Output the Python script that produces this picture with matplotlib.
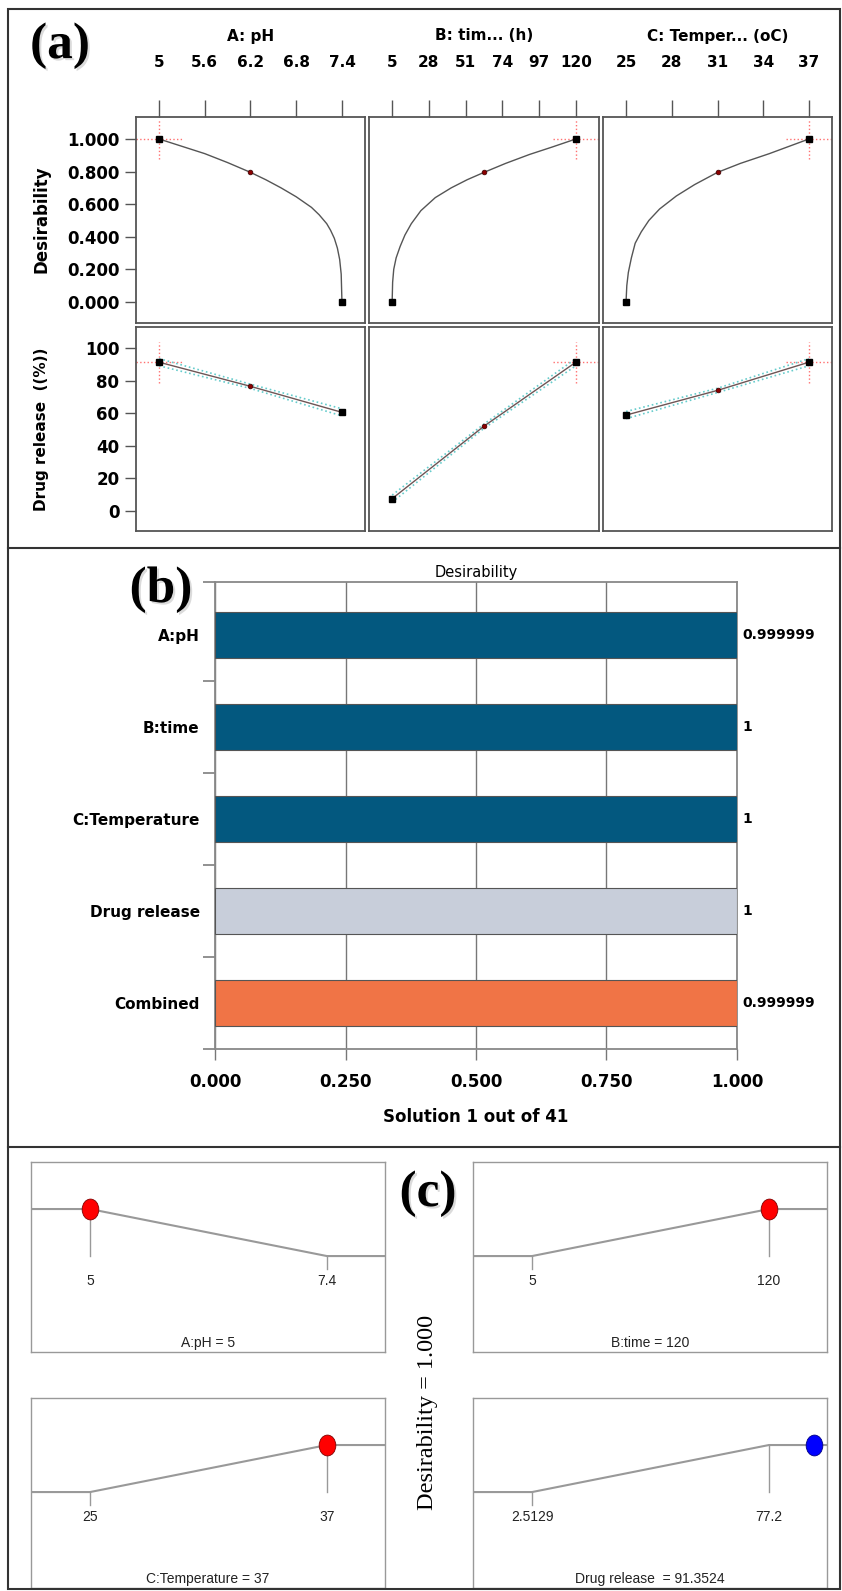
import matplotlib.pyplot as plt
import matplotlib.patheffects as pe
from matplotlib.lines import Line2D
from matplotlib.patches import Rectangle
from matplotlib.markers import MarkerStyle
from matplotlib.transforms import Affine2D

W, H = 842, 1591

# ---- (a) factor effects ----
factor_titles = ['A: pH', 'B: tim... (h)', 'C: Temper... (oC)']
factor_low = [5, 5, 25]
factor_high = [7.4, 120, 37]
factor_mid = [6.2, 62.5, 31]
factor_opt = [5, 120, 37]
top_ticks = [[5, 5.6, 6.2, 6.8, 7.4], [5, 28, 51, 74, 97, 120], [25, 28, 31, 34, 37]]

# desirability traced along each factor
des_x_A = [5.0, 5.3, 5.6, 5.9, 6.2, 6.4, 6.6, 6.8, 7.0, 7.1, 7.2, 7.25, 7.3, 7.34, 7.37, 7.39, 7.4]
des_y_A = [1.0, 0.955, 0.91, 0.855, 0.795, 0.75, 0.70, 0.645, 0.58, 0.535, 0.48, 0.44, 0.39,
           0.33, 0.26, 0.17, 0.0]
des_x_B = [5, 5.3, 6, 7.5, 10, 13, 17, 23, 32, 42, 52, 62.5, 76, 91, 105, 120]
des_y_B = [0.0, 0.12, 0.20, 0.27, 0.34, 0.41, 0.48, 0.56, 0.64, 0.70, 0.75, 0.795, 0.85,
           0.905, 0.95, 1.0]
des_x_C = [25, 25.05, 25.15, 25.35, 25.6, 26.0, 26.5, 27.2, 28.3, 29.5, 31, 32.5, 34.4,
           35.7, 37]
des_y_C = [0.0, 0.10, 0.18, 0.27, 0.36, 0.43, 0.50, 0.57, 0.65, 0.72, 0.795, 0.85, 0.91,
           0.955, 1.0]
des_mid = [0.795, 0.795, 0.795]

# predicted drug release at low / mid / high level of each factor
release_A = [91.35, 76.5, 60.5]
release_B = [7.4, 52.0, 91.35]
release_C = [58.8, 74.0, 91.35]
release_ci = [2.2, 1.3, 2.2]

# ---- (b) desirability bars ----
bar_names = ['A:pH', 'B:time', 'C:Temperature', 'Drug release', 'Combined']
bar_values = [0.999999, 1, 1, 1, 0.999999]
bar_colors = ['#03587f', '#03587f', '#03587f', '#c8ceda', '#f07446']

# ---- (c) ramps ----
ramp_names = ['A:pH', 'B:time', 'C:Temperature', 'Drug release ']
ramp_low = [5, 5, 25, 2.5129]
ramp_high = [7.4, 120, 37, 77.2]
ramp_goal = ['min', 'max', 'max', 'max']
ramp_value = [5, 120, 37, 91.3524]
ramp_dot = ['#ff0000', '#ff0000', '#ff0000', '#0000ff']


def px_axes(x0, y0, x1, y1):
    return fig.add_axes([x0 / W, 1 - y1 / H, (x1 - x0) / W, (y1 - y0) / H])


def px_text(x, y, s, **kw):
    return fig.text(x / W, 1 - y / H, s, **kw)


fig = plt.figure(figsize=(W / 100, H / 100), dpi=100)

# outer frame and separators
fig.add_artist(Rectangle((8 / W, 1 - 1589 / H), 832 / W, 1580 / H, transform=fig.transFigure,
                         fill=False, ec='#333333', lw=1.5))
for yy in (548, 1147):
    fig.add_artist(Line2D([8 / W, 840 / W], [1 - yy / H, 1 - yy / H],
                          transform=fig.transFigure, color='#333333', lw=1.5))

shadow = [pe.withSimplePatchShadow(offset=(1.5, -1.5), shadow_rgbFace='#999999', alpha=0.35)]
for (x, y, s) in [(60, 46, '(a)'), (161, 590, '(b)'), (428, 1194, '(c)')]:
    px_text(x, y, s, family='Liberation Serif', weight='bold', size=37,
            ha='center', va='center', path_effects=shadow)

# ---------- (a) ----------
cols = [(136, 365), (369, 599), (603, 832)]
rows = [(117, 323), (327, 531)]
des_x = [des_x_A, des_x_B, des_x_C]
des_y = [des_y_A, des_y_B, des_y_C]
release = [release_A, release_B, release_C]
frame_col = '#555555'
cross_col = '#ff7070'

for j in range(3):
    lo, hi = factor_low[j], factor_high[j]
    span = hi - lo
    xlim = (lo - 0.126 * span, hi + 0.126 * span)
    dx = 0.126 * span
    levels = [lo, factor_mid[j], hi]

    px_text((cols[j][0] + cols[j][1]) / 2, 36, factor_titles[j], ha='center', va='center',
            size=11, weight='bold')

    # desirability row
    ax = px_axes(cols[j][0], rows[0][0], cols[j][1], rows[0][1])
    ax.set_xlim(*xlim)
    ax.set_ylim(-0.13, 1.135)
    ax.plot([factor_opt[j] - dx, factor_opt[j] + dx], [1, 1], ':', color=cross_col, lw=1)
    ax.plot([factor_opt[j]] * 2, [1 - 0.125, 1 + 0.125], ':', color=cross_col, lw=1)
    ax.plot(des_x[j], des_y[j], color='#555555', lw=1)
    ax.plot([des_x[j][0], des_x[j][-1]], [des_y[j][0], des_y[j][-1]], 's', color='black',
            ms=4, zorder=4)
    ax.plot(factor_mid[j], des_mid[j], 'o', color='#8b0000', ms=3.4, mec='#3a0000', mew=0.5,
            zorder=4)
    ax.xaxis.tick_top()
    ax.set_xticks(top_ticks[j])
    ax.set_xticklabels([f'{t:g}' for t in top_ticks[j]])
    ax.tick_params(axis='x', direction='out', length=12.5, width=1, color=frame_col,
                   pad=21, labelsize=11)
    for lab in ax.get_xticklabels():
        lab.set_fontweight('bold')
    if j == 0:
        ax.set_yticks([0, 0.2, 0.4, 0.6, 0.8, 1.0])
        ax.set_yticklabels([f'{v:.3f}' for v in [0, 0.2, 0.4, 0.6, 0.8, 1.0]])
        ax.tick_params(axis='y', direction='out', length=8, width=1, color=frame_col,
                       pad=4, labelsize=12)
        for lab in ax.get_yticklabels():
            lab.set_fontweight('bold')
    else:
        ax.set_yticks([])
    for s in ax.spines.values():
        s.set_color(frame_col)
        s.set_linewidth(1.3)

    # drug release row
    ax = px_axes(cols[j][0], rows[1][0], cols[j][1], rows[1][1])
    ax.set_xlim(*xlim)
    ax.set_ylim(-12.5, 113)
    r = release[j]
    ropt = r[0] if factor_opt[j] == lo else r[2]
    ax.plot([factor_opt[j] - dx, factor_opt[j] + dx], [ropt, ropt], ':', color=cross_col, lw=1)
    ax.plot([factor_opt[j]] * 2, [ropt - 12.5, ropt + 12.5], ':', color=cross_col, lw=1)
    ax.plot(levels, [v + c for v, c in zip(r, release_ci)], ':', color='#66cccc', lw=1.2)
    ax.plot(levels, [v - c for v, c in zip(r, release_ci)], ':', color='#66cccc', lw=1.2)
    ax.plot(levels, r, color='#6e5555', lw=1)
    ax.plot([lo, hi], [r[0], r[2]], 's', color='black', ms=4, zorder=4)
    ax.plot(factor_mid[j], r[1], 'o', color='#8b0000', ms=3.4, mec='#3a0000', mew=0.5,
            zorder=4)
    ax.set_xticks([])
    if j == 0:
        ax.set_yticks([0, 20, 40, 60, 80, 100])
        ax.tick_params(axis='y', direction='out', length=8, width=1, color=frame_col,
                       pad=4, labelsize=12)
        for lab in ax.get_yticklabels():
            lab.set_fontweight('bold')
    else:
        ax.set_yticks([])
    for s in ax.spines.values():
        s.set_color(frame_col)
        s.set_linewidth(1.3)

px_text(42, 219, 'Desirability', rotation=90, ha='center', va='center', size=12, weight='bold')
px_text(42, 429, 'Drug release  ((%))', rotation=90, ha='center', va='center',
        size=11, weight='bold')

# ---------- (b) ----------
ax = px_axes(215, 582, 737, 1049)
pos = list(range(len(bar_names)))
ax.barh(pos, bar_values, height=0.5, color=bar_colors, edgecolor='#555555', lw=0.8, zorder=3)
ax.set_xlim(0, 1)
ax.set_ylim(4.5, -0.58)
ax.set_xticks([0, 0.25, 0.5, 0.75, 1.0])
ax.set_xticklabels([f'{v:.3f}' for v in [0, 0.25, 0.5, 0.75, 1.0]])
ax.grid(axis='x', color='#777777', lw=1, zorder=0)
ax.set_yticks([-0.58, 0.5, 1.5, 2.5, 3.5, 4.5])
ax.set_yticklabels([])
ax.set_yticks(pos, minor=True)
ax.set_yticklabels(bar_names, minor=True)
ax.tick_params(axis='y', which='major', direction='out', length=9, width=1.3, color='#888888')
ax.tick_params(axis='y', which='minor', length=0, pad=11, labelsize=11)
ax.tick_params(axis='x', direction='out', length=8, width=1, color='#777777', pad=9,
               labelsize=12)
for lab in ax.get_xticklabels() + ax.get_yticklabels(minor=True):
    lab.set_fontweight('bold')
for s in ax.spines.values():
    s.set_color('#888888')
    s.set_linewidth(1.3)
for i, v in enumerate(bar_values):
    ax.annotate(f'{v:g}', (v, i), xytext=(4, 0), textcoords='offset points',
                ha='left', va='center', size=10, weight='bold')
px_text(476, 573, 'Desirability', ha='center', va='center', size=10.5)
px_text(476, 1117, 'Solution 1 out of 41', ha='center', va='center', size=12, weight='bold')

# ---------- (c) ----------
boxes = [(31, 1162, 385, 1352), (473, 1162, 827, 1352), (31, 1398, 385, 1588),
         (473, 1398, 827, 1588)]
ramp_col = '#999999'
for k in range(4):
    lo, hi = ramp_low[k], ramp_high[k]
    span = hi - lo
    ax = px_axes(*boxes[k])
    x0, x1 = lo - 0.249 * span, hi + 0.245 * span
    ax.set_xlim(x0, x1)
    ax.set_ylim(-2.04, 2.0)
    if ramp_goal[k] == 'min':
        d_lo, d_hi = 1, 0
    else:
        d_lo, d_hi = 0, 1
    ax.plot([x0, lo, hi, x1], [d_lo, d_lo, d_hi, d_hi], color=ramp_col, lw=1.5)
    for xv, dv in [(lo, d_lo), (hi, d_hi)]:
        if dv == 1:
            ax.plot([xv, xv], [1, 0], color=ramp_col, lw=1)
        else:
            ax.plot([xv, xv], [0, -0.28], color=ramp_col, lw=1)
        ax.text(xv, -0.52, f'{xv:g}', ha='center', va='center', size=10,
                family='Liberation Sans', color='#222222')
    v = ramp_value[k]
    ax.plot(v, 1.0, marker=MarkerStyle('o', transform=Affine2D().scale(0.8, 1.0)),
            ms=15, mfc=ramp_dot[k], mec='#800000' if k < 3 else '#000080', mew=0.6,
            zorder=5, clip_on=False)
    ax.text((x0 + x1) / 2, -1.85, f'{ramp_names[k]} = {v:g}', ha='center', va='center',
            size=10, family='Liberation Sans', color='#222222')
    ax.set_xticks([])
    ax.set_yticks([])
    for s in ax.spines.values():
        s.set_color(ramp_col)
        s.set_linewidth(1)

px_text(427, 1412, 'Desirability = 1.000', rotation=90, ha='center', va='center',
        size=17.5, family='Liberation Serif')

fig.savefig('out.png', dpi=100)
